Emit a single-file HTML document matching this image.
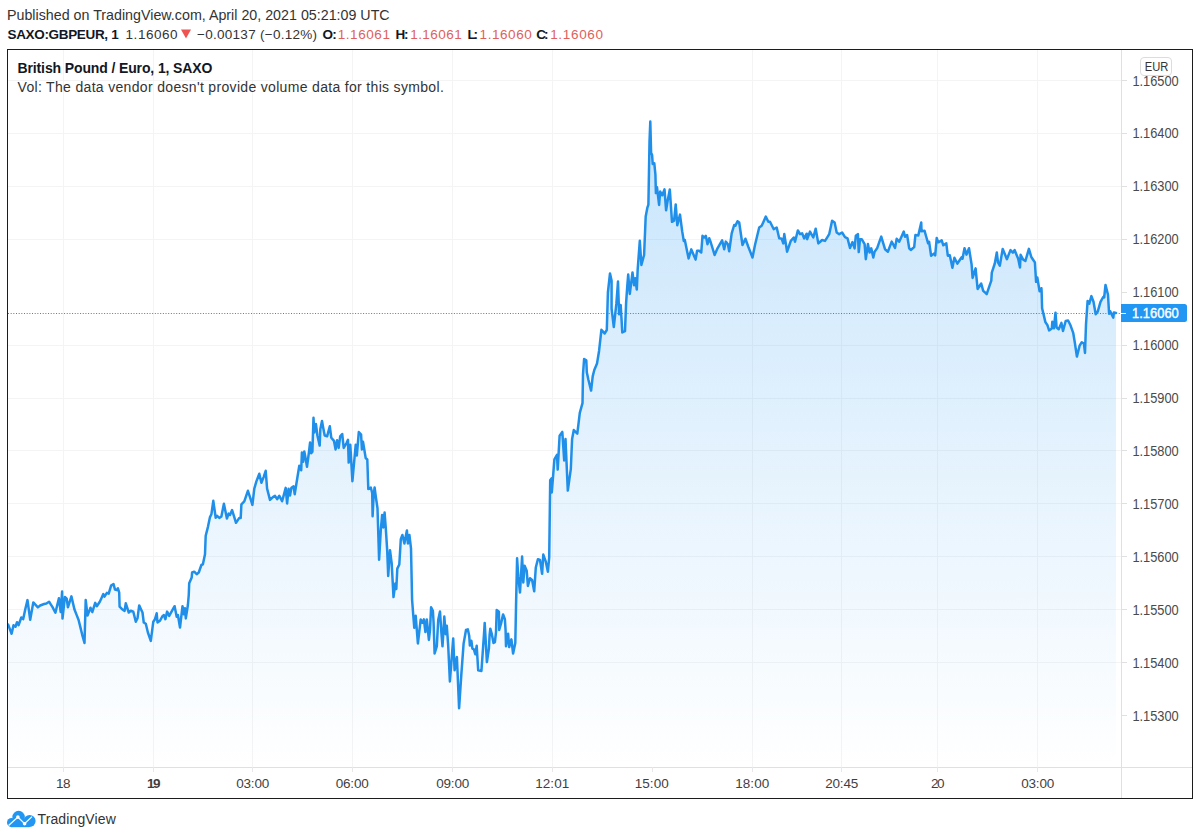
<!DOCTYPE html>
<html><head><meta charset="utf-8">
<style>
html,body{margin:0;padding:0;background:#fff;width:1200px;height:840px;overflow:hidden;}
svg{position:absolute;left:0;top:0;font-family:"Liberation Sans", sans-serif;}
</style></head><body>
<svg width="1200" height="840" viewBox="0 0 1200 840">
<defs>
<linearGradient id="ag" x1="0" y1="49" x2="0" y2="767" gradientUnits="userSpaceOnUse">
<stop offset="0" stop-color="#2196f3" stop-opacity="0.28"/>
<stop offset="1" stop-color="#2196f3" stop-opacity="0"/>
</linearGradient>
<clipPath id="pane"><rect x="8" y="50" width="1113" height="717"/></clipPath>
</defs>
<rect x="0" y="0" width="1200" height="840" fill="#fff"/>
<g stroke="#f4f4f4" stroke-width="1"><line x1="8" y1="80.5" x2="1121" y2="80.5"/><line x1="8" y1="133.5" x2="1121" y2="133.5"/><line x1="8" y1="186.5" x2="1121" y2="186.5"/><line x1="8" y1="239.5" x2="1121" y2="239.5"/><line x1="8" y1="345.5" x2="1121" y2="345.5"/><line x1="8" y1="398.5" x2="1121" y2="398.5"/><line x1="8" y1="450.5" x2="1121" y2="450.5"/><line x1="8" y1="503.5" x2="1121" y2="503.5"/><line x1="8" y1="556.5" x2="1121" y2="556.5"/><line x1="8" y1="609.5" x2="1121" y2="609.5"/><line x1="8" y1="662.5" x2="1121" y2="662.5"/><line x1="63.5" y1="50" x2="63.5" y2="767"/><line x1="153.5" y1="50" x2="153.5" y2="767"/><line x1="252.5" y1="50" x2="252.5" y2="767"/><line x1="352.5" y1="50" x2="352.5" y2="767"/><line x1="452.5" y1="50" x2="452.5" y2="767"/><line x1="552.5" y1="50" x2="552.5" y2="767"/><line x1="752.5" y1="50" x2="752.5" y2="767"/><line x1="841.5" y1="50" x2="841.5" y2="767"/><line x1="937.5" y1="50" x2="937.5" y2="767"/><line x1="1037.5" y1="50" x2="1037.5" y2="767"/></g>
<g clip-path="url(#pane)">
<path d="M8.1 624.5 L9.85 629.1 L11.6 633.7 L13.5 625.2 L15.5 626.8 L17 622.2 L18.6 625.2 L21.3 617.5 L23.2 619.1 L25.5 608.2 L27.5 600.1 L30.2 619.8 L33.3 602.4 L35.6 604.9 L37.9 607.4 L40.2 605.5 L42.15 604.75 L44.1 604 L46.4 603.6 L49.1 601.7 L50.75 604.3 L52.4 606.9 L55.4 612.7 L57.15 605.45 L58.9 598.2 L60.7 612.1 L62.1 591.6 L62.5 618.6 L64.9 597 L66.7 598.6 L67.9 607.3 L69.65 601.85 L71.4 596.4 L74.4 609.3 L76.5 614.65 L78.6 620 L80.35 627.15 L82.1 634.3 L84.5 643 L85.7 600 L87.5 615.6 L90.5 607.7 L92.3 612.1 L95.2 602.9 L96.8 606.2 L99.8 601.7 L101.55 597.9 L103.3 594.1 L104.5 596.7 L106.9 592.9 L108.7 593.7 L111.1 585.6 L113.5 584 L115 589.6 L116.7 590 L117.9 588.3 L119.2 592.5 L119.6 606.7 L122.1 609.2 L124.6 610.9 L125.8 603.3 L128.75 612.5 L130.8 610.8 L133.3 611.7 L135.8 621.7 L137.5 618.3 L139.2 605.4 L140.85 608.95 L142.5 612.5 L143.75 622.5 L145.8 623.75 L147.9 632.5 L150.8 640.9 L153.3 621.7 L155 619.2 L156.7 613.3 L157.5 622.5 L160 620.8 L162.1 616.7 L163.75 615 L165.4 619.2 L167.1 611.6 L169.2 615.9 L171 612.67 L172.8 609.43 L174.6 606.2 L176.7 616.7 L177.9 615 L180 627.5 L182.5 606.2 L183.75 614.2 L185 608.3 L185.8 618.4 L187.9 605 L188.75 595 L189.2 583.3 L191.7 577.5 L192.1 572.5 L194.2 571.7 L196.7 574.2 L198.75 572.5 L201.4 565 L202.9 564.3 L205 554.3 L205.7 535.7 L207.9 527.1 L210 517.1 L211.4 514.3 L213.3 500.8 L215.7 517.8 L217.1 515.8 L219.3 517.9 L221.4 516.4 L223.9 503.7 L226.9 518.5 L228.6 513.6 L230 515 L232.1 510.1 L234.05 516.45 L236 522.8 L237.65 520.35 L239.3 517.9 L240.7 517.9 L241.4 504.3 L244.3 501.4 L246.1 496.1 L247.9 490.8 L250 497.1 L252.4 504.9 L254.3 488.6 L256.4 481.4 L259.3 473.7 L261.4 482.8 L263.6 477.1 L265.7 470.8 L267.1 488.6 L270 499.9 L272.9 497.1 L275 495.8 L277.1 499.2 L279.3 495.8 L282.1 501.3 L283.9 494.6 L285.7 487.9 L287.1 503.5 L288.6 488.7 L290 495.6 L291.4 487.9 L293.6 486.4 L294.7 494.2 L297.1 479.3 L299.3 465.8 L301.2 470.3 L301.9 452.6 L303.1 461.8 L304.3 451.4 L305 454.9 L307 466.8 L308.9 452.5 L310.1 442.5 L311.2 453.3 L312.4 451.8 L313.5 417.8 L314.3 432.4 L315.9 423.9 L317.4 435.5 L319.7 445.6 L320.3 429.3 L322 420.9 L323.2 427.8 L324.7 435.5 L327.1 436.3 L329.8 426.3 L331.3 437.8 L334 440.9 L335.6 449.4 L337.1 440.2 L338.7 447.9 L340.2 436.3 L342.2 434 L343.7 447.9 L346.4 443.3 L348 439.8 L348.7 462.6 L350.3 444.8 L352.4 481.2 L354.05 463 L355.7 444.8 L356.8 455.6 L358.8 432.1 L361.1 434.7 L361.9 449.4 L363 441.7 L365.7 458 L367.3 459.5 L368.3 489 L370.8 487.5 L372.2 493 L372.6 516.2 L373.6 496 L374.6 487.5 L375.8 496.7 L377.5 508.3 L379.1 559.7 L380.8 530 L382.1 515 L383.3 527.5 L384.6 512.5 L385.8 528.3 L387.2 550.4 L388.2 575.9 L390 550.2 L391.7 563.5 L393.5 597.1 L395.3 583.6 L396.3 589 L397.3 568.6 L399.3 564.5 L400.8 539.2 L402.4 535 L404.4 543.5 L406.9 530.4 L407.9 543.5 L409.4 535 L411 548.3 L412.1 600 L413.2 614.3 L414.3 627.8 L415.7 615.8 L417.9 643.5 L420.7 619.4 L422.5 622.8 L423.9 619.4 L425.4 632.1 L426.8 619.4 L428.9 639.9 L430 630 L431.1 607.2 L432.9 610.7 L433.6 622.9 L434.6 653.5 L436.8 646.4 L438.2 620 L440 611.5 L441.4 632.9 L442.5 646.3 L444.3 616.5 L445.7 634.2 L446.8 625.8 L448.2 645.7 L449.9 681.5 L451.55 659.95 L453.2 638.4 L454.6 670.3 L456.9 657 L459.1 708.2 L461.3 674.8 L463.6 643.6 L466 630 L467.8 629.3 L469.2 635.7 L469.9 645.6 L471.4 640.8 L472.4 648.6 L473.9 649.3 L475.3 654.2 L476.7 645.8 L478.2 670.4 L481.4 671.1 L483.9 635.7 L484.7 622.9 L486.9 662.1 L488.9 648.6 L489.6 635 L490.3 628.7 L491.7 633.6 L493.5 642.9 L494.9 642.1 L496 632.1 L496.7 610.1 L498.9 611.8 L499.2 629.9 L501 623.6 L503.1 614.4 L504.9 619.3 L505.6 630.7 L506 646.3 L508.1 633.7 L509.2 647.1 L511.4 639.4 L513.1 653.5 L515.3 642.9 L516 607.1 L517.1 558.3 L518.3 576.7 L520 592.5 L522.1 556.6 L523.3 582.5 L524.6 565.8 L526.7 570.8 L527.9 585.9 L530 578.3 L532.1 580 L534.2 591.3 L535.8 567.5 L537.9 559.2 L540 560 L542.1 573.8 L543.3 554.55 L545.8 561.7 L547.9 571.7 L549.2 557.5 L550.2 480.2 L551.5 478.4 L551.8 492.5 L554.4 459.3 L557 454.8 L557.7 469.6 L559.6 435.7 L562.3 431.9 L564.2 460.5 L565.5 439.1 L567.8 490.6 L570.8 469.1 L572.1 439 L573.8 430 L575.55 431.8 L577.3 433.6 L579.8 412.9 L582.5 403.2 L583 374.3 L584.1 359 L586.3 360.4 L586.8 372.2 L588.4 379.7 L591.1 390.6 L592.7 376.4 L594.3 370 L597 363.6 L599.1 350.7 L601.4 329.8 L603 331.65 L604.6 333.5 L606.8 330 L607.9 292.5 L610 273.5 L611.6 280.7 L611.6 308.6 L613.8 327.1 L616.4 303.2 L618 281.5 L619.1 314.2 L620.7 305.1 L622.3 332.4 L625 331.1 L626.1 303.2 L627.2 287.2 L628.2 274.6 L629.8 293.9 L632.5 272.4 L634.1 285.3 L635.2 278.3 L636.8 289.6 L637.7 269 L639.8 240.8 L641.4 264.9 L644.1 255 L645.7 216.4 L647.3 207.9 L648.4 204.7 L649.5 142 L650.3 121.5 L651.1 152.9 L652.1 155 L652.7 163.9 L654.3 163.3 L655.4 174.3 L655.9 193.1 L657 187.2 L659.1 204.9 L660.2 191.5 L662.3 195.3 L664.5 189.4 L666.1 210.3 L667.7 200.4 L669.8 189.4 L672 221.8 L674.1 220.7 L675.7 204.4 L677.3 225.3 L680 214.6 L682.2 231.4 L683.8 241.1 L684.8 240 L686.7 249.25 L688.6 258.5 L691.3 249.4 L693.45 254.5 L695.6 259.6 L697.1 250.8 L699.2 250.8 L701.25 252.5 L702.5 235.8 L704.2 237.5 L705.8 235.8 L707.5 244.2 L709.2 238.3 L710.8 242.5 L712.7 248.75 L714.6 255 L717.5 248.3 L719.8 244.35 L722.1 240.4 L724.2 249.2 L725.8 241.6 L727.9 244.2 L729.2 251.3 L731.7 233.3 L734.2 225 L735.4 225.8 L737.5 221.25 L739.2 222.5 L740.85 233.75 L742.5 245 L745.4 238.7 L748.3 246.7 L750.4 252.1 L752.5 257.5 L755 245 L757.1 236.25 L759.2 227.5 L761.7 225.8 L763.75 221.2 L765.8 216.6 L768.3 221.7 L770 221.7 L771.88 225.45 L773.75 229.2 L776.7 227.5 L779.2 238.3 L781.7 238.75 L783.3 243.4 L784.3 234.1 L787.1 251.7 L788.95 246.25 L790.8 240.8 L793.75 237.5 L795 241.7 L797.9 230.4 L800 234.2 L802.1 233.3 L804.2 238.4 L806.7 233.7 L807.1 239.2 L810 231.6 L811.65 234.55 L813.3 237.5 L815.7 228.7 L818.3 243.4 L820.2 241.7 L822.1 240 L825 240.9 L827.1 237.55 L829.2 234.2 L832.1 220.8 L834.6 222.5 L836.7 232.5 L839.2 234.2 L842.1 232.5 L845 237.1 L847.5 238.3 L850 247.95 L852.5 242.05 L854.6 248.4 L855.8 235.8 L857.9 234.1 L858.75 252.1 L860 239.2 L861.7 239.2 L864.6 244.2 L865.8 259.2 L867.9 244.1 L869.6 252.5 L871.25 248.3 L873.3 257.5 L874.6 251.7 L877.1 248.3 L879.17 242.45 L881.25 236.6 L883.12 242.9 L885 249.2 L887.9 251.7 L889.8 246.65 L891.7 241.6 L893.35 244.78 L895 247.95 L896.7 238.7 L899.2 241.7 L901.48 236.65 L903.75 231.6 L905 236.7 L907.1 235 L909.2 248.3 L910.8 250 L912.5 248.55 L914.2 247.1 L915.4 235 L918.3 235.4 L921.25 222.5 L921.5 231.2 L924.5 230.7 L926.3 237 L928.1 243.3 L929.1 241.8 L931.1 255.7 L934.2 253.4 L935.2 255.4 L936.7 238 L938.2 242.3 L939.95 241.3 L941.7 240.3 L943.3 245.3 L946.3 243.3 L947.8 255.7 L949.8 255.2 L952.4 267.8 L954.4 257.8 L957.4 263.7 L959.45 260.5 L961.5 257.3 L962.5 258.7 L964.5 248.2 L966.5 254.6 L969 248.2 L971.6 264.5 L972.6 277.9 L975.6 268.4 L977.6 289 L979.4 286.25 L981.2 283.5 L983.2 290.8 L984.95 292.45 L986.7 294.1 L988.8 287.8 L991.3 280.7 L991.8 272.6 L994.8 263.5 L996.8 252.5 L998 262.4 L999.8 265.7 L1002.7 248.9 L1004.8 254.05 L1006.9 259.2 L1008.7 254.65 L1010.5 250.1 L1012.9 252.7 L1014.6 250.1 L1016.4 254.45 L1018.2 258.8 L1020 267.5 L1020.6 254.8 L1023 259.4 L1025.4 261 L1027.15 254.95 L1028.9 248.9 L1031.3 257 L1033.1 259.7 L1034.9 262.4 L1036.1 281.8 L1037.3 277.5 L1039.6 291.3 L1041.4 288.2 L1041.6 291.1 L1042.1 308.2 L1043.75 315.15 L1045.4 322.1 L1047.5 325.3 L1049.1 330.4 L1051.8 328.5 L1052.3 321.8 L1053.9 328.3 L1055.5 312.7 L1056.6 327.5 L1058.7 329.3 L1061.4 322.9 L1063 330.9 L1065.7 321 L1068.1 320.5 L1070.5 325.3 L1073.2 332.8 L1074.8 342.5 L1076.9 356.6 L1079.6 345.7 L1081.8 342.2 L1083.9 343.5 L1085 352.9 L1086 324.3 L1087.6 301 L1089.3 303.6 L1091.4 296.1 L1093.5 301.8 L1095.7 314.3 L1097.8 311.4 L1100.5 301.8 L1103.2 297 L1104.2 297.5 L1105.5 284.9 L1108 294.8 L1109.1 313.8 L1110.1 311.1 L1111.7 314.35 L1113.3 317.6 L1113.9 312.5 L1116 313 L1116 767 L8.1 767 Z" fill="url(#ag)" stroke="none"/>
<line x1="8" y1="313.5" x2="1121" y2="313.5" stroke="#2f86cc" stroke-width="1" stroke-dasharray="1 1.67"/>
<path d="M8.1 624.5 L9.85 629.1 L11.6 633.7 L13.5 625.2 L15.5 626.8 L17 622.2 L18.6 625.2 L21.3 617.5 L23.2 619.1 L25.5 608.2 L27.5 600.1 L30.2 619.8 L33.3 602.4 L35.6 604.9 L37.9 607.4 L40.2 605.5 L42.15 604.75 L44.1 604 L46.4 603.6 L49.1 601.7 L50.75 604.3 L52.4 606.9 L55.4 612.7 L57.15 605.45 L58.9 598.2 L60.7 612.1 L62.1 591.6 L62.5 618.6 L64.9 597 L66.7 598.6 L67.9 607.3 L69.65 601.85 L71.4 596.4 L74.4 609.3 L76.5 614.65 L78.6 620 L80.35 627.15 L82.1 634.3 L84.5 643 L85.7 600 L87.5 615.6 L90.5 607.7 L92.3 612.1 L95.2 602.9 L96.8 606.2 L99.8 601.7 L101.55 597.9 L103.3 594.1 L104.5 596.7 L106.9 592.9 L108.7 593.7 L111.1 585.6 L113.5 584 L115 589.6 L116.7 590 L117.9 588.3 L119.2 592.5 L119.6 606.7 L122.1 609.2 L124.6 610.9 L125.8 603.3 L128.75 612.5 L130.8 610.8 L133.3 611.7 L135.8 621.7 L137.5 618.3 L139.2 605.4 L140.85 608.95 L142.5 612.5 L143.75 622.5 L145.8 623.75 L147.9 632.5 L150.8 640.9 L153.3 621.7 L155 619.2 L156.7 613.3 L157.5 622.5 L160 620.8 L162.1 616.7 L163.75 615 L165.4 619.2 L167.1 611.6 L169.2 615.9 L171 612.67 L172.8 609.43 L174.6 606.2 L176.7 616.7 L177.9 615 L180 627.5 L182.5 606.2 L183.75 614.2 L185 608.3 L185.8 618.4 L187.9 605 L188.75 595 L189.2 583.3 L191.7 577.5 L192.1 572.5 L194.2 571.7 L196.7 574.2 L198.75 572.5 L201.4 565 L202.9 564.3 L205 554.3 L205.7 535.7 L207.9 527.1 L210 517.1 L211.4 514.3 L213.3 500.8 L215.7 517.8 L217.1 515.8 L219.3 517.9 L221.4 516.4 L223.9 503.7 L226.9 518.5 L228.6 513.6 L230 515 L232.1 510.1 L234.05 516.45 L236 522.8 L237.65 520.35 L239.3 517.9 L240.7 517.9 L241.4 504.3 L244.3 501.4 L246.1 496.1 L247.9 490.8 L250 497.1 L252.4 504.9 L254.3 488.6 L256.4 481.4 L259.3 473.7 L261.4 482.8 L263.6 477.1 L265.7 470.8 L267.1 488.6 L270 499.9 L272.9 497.1 L275 495.8 L277.1 499.2 L279.3 495.8 L282.1 501.3 L283.9 494.6 L285.7 487.9 L287.1 503.5 L288.6 488.7 L290 495.6 L291.4 487.9 L293.6 486.4 L294.7 494.2 L297.1 479.3 L299.3 465.8 L301.2 470.3 L301.9 452.6 L303.1 461.8 L304.3 451.4 L305 454.9 L307 466.8 L308.9 452.5 L310.1 442.5 L311.2 453.3 L312.4 451.8 L313.5 417.8 L314.3 432.4 L315.9 423.9 L317.4 435.5 L319.7 445.6 L320.3 429.3 L322 420.9 L323.2 427.8 L324.7 435.5 L327.1 436.3 L329.8 426.3 L331.3 437.8 L334 440.9 L335.6 449.4 L337.1 440.2 L338.7 447.9 L340.2 436.3 L342.2 434 L343.7 447.9 L346.4 443.3 L348 439.8 L348.7 462.6 L350.3 444.8 L352.4 481.2 L354.05 463 L355.7 444.8 L356.8 455.6 L358.8 432.1 L361.1 434.7 L361.9 449.4 L363 441.7 L365.7 458 L367.3 459.5 L368.3 489 L370.8 487.5 L372.2 493 L372.6 516.2 L373.6 496 L374.6 487.5 L375.8 496.7 L377.5 508.3 L379.1 559.7 L380.8 530 L382.1 515 L383.3 527.5 L384.6 512.5 L385.8 528.3 L387.2 550.4 L388.2 575.9 L390 550.2 L391.7 563.5 L393.5 597.1 L395.3 583.6 L396.3 589 L397.3 568.6 L399.3 564.5 L400.8 539.2 L402.4 535 L404.4 543.5 L406.9 530.4 L407.9 543.5 L409.4 535 L411 548.3 L412.1 600 L413.2 614.3 L414.3 627.8 L415.7 615.8 L417.9 643.5 L420.7 619.4 L422.5 622.8 L423.9 619.4 L425.4 632.1 L426.8 619.4 L428.9 639.9 L430 630 L431.1 607.2 L432.9 610.7 L433.6 622.9 L434.6 653.5 L436.8 646.4 L438.2 620 L440 611.5 L441.4 632.9 L442.5 646.3 L444.3 616.5 L445.7 634.2 L446.8 625.8 L448.2 645.7 L449.9 681.5 L451.55 659.95 L453.2 638.4 L454.6 670.3 L456.9 657 L459.1 708.2 L461.3 674.8 L463.6 643.6 L466 630 L467.8 629.3 L469.2 635.7 L469.9 645.6 L471.4 640.8 L472.4 648.6 L473.9 649.3 L475.3 654.2 L476.7 645.8 L478.2 670.4 L481.4 671.1 L483.9 635.7 L484.7 622.9 L486.9 662.1 L488.9 648.6 L489.6 635 L490.3 628.7 L491.7 633.6 L493.5 642.9 L494.9 642.1 L496 632.1 L496.7 610.1 L498.9 611.8 L499.2 629.9 L501 623.6 L503.1 614.4 L504.9 619.3 L505.6 630.7 L506 646.3 L508.1 633.7 L509.2 647.1 L511.4 639.4 L513.1 653.5 L515.3 642.9 L516 607.1 L517.1 558.3 L518.3 576.7 L520 592.5 L522.1 556.6 L523.3 582.5 L524.6 565.8 L526.7 570.8 L527.9 585.9 L530 578.3 L532.1 580 L534.2 591.3 L535.8 567.5 L537.9 559.2 L540 560 L542.1 573.8 L543.3 554.55 L545.8 561.7 L547.9 571.7 L549.2 557.5 L550.2 480.2 L551.5 478.4 L551.8 492.5 L554.4 459.3 L557 454.8 L557.7 469.6 L559.6 435.7 L562.3 431.9 L564.2 460.5 L565.5 439.1 L567.8 490.6 L570.8 469.1 L572.1 439 L573.8 430 L575.55 431.8 L577.3 433.6 L579.8 412.9 L582.5 403.2 L583 374.3 L584.1 359 L586.3 360.4 L586.8 372.2 L588.4 379.7 L591.1 390.6 L592.7 376.4 L594.3 370 L597 363.6 L599.1 350.7 L601.4 329.8 L603 331.65 L604.6 333.5 L606.8 330 L607.9 292.5 L610 273.5 L611.6 280.7 L611.6 308.6 L613.8 327.1 L616.4 303.2 L618 281.5 L619.1 314.2 L620.7 305.1 L622.3 332.4 L625 331.1 L626.1 303.2 L627.2 287.2 L628.2 274.6 L629.8 293.9 L632.5 272.4 L634.1 285.3 L635.2 278.3 L636.8 289.6 L637.7 269 L639.8 240.8 L641.4 264.9 L644.1 255 L645.7 216.4 L647.3 207.9 L648.4 204.7 L649.5 142 L650.3 121.5 L651.1 152.9 L652.1 155 L652.7 163.9 L654.3 163.3 L655.4 174.3 L655.9 193.1 L657 187.2 L659.1 204.9 L660.2 191.5 L662.3 195.3 L664.5 189.4 L666.1 210.3 L667.7 200.4 L669.8 189.4 L672 221.8 L674.1 220.7 L675.7 204.4 L677.3 225.3 L680 214.6 L682.2 231.4 L683.8 241.1 L684.8 240 L686.7 249.25 L688.6 258.5 L691.3 249.4 L693.45 254.5 L695.6 259.6 L697.1 250.8 L699.2 250.8 L701.25 252.5 L702.5 235.8 L704.2 237.5 L705.8 235.8 L707.5 244.2 L709.2 238.3 L710.8 242.5 L712.7 248.75 L714.6 255 L717.5 248.3 L719.8 244.35 L722.1 240.4 L724.2 249.2 L725.8 241.6 L727.9 244.2 L729.2 251.3 L731.7 233.3 L734.2 225 L735.4 225.8 L737.5 221.25 L739.2 222.5 L740.85 233.75 L742.5 245 L745.4 238.7 L748.3 246.7 L750.4 252.1 L752.5 257.5 L755 245 L757.1 236.25 L759.2 227.5 L761.7 225.8 L763.75 221.2 L765.8 216.6 L768.3 221.7 L770 221.7 L771.88 225.45 L773.75 229.2 L776.7 227.5 L779.2 238.3 L781.7 238.75 L783.3 243.4 L784.3 234.1 L787.1 251.7 L788.95 246.25 L790.8 240.8 L793.75 237.5 L795 241.7 L797.9 230.4 L800 234.2 L802.1 233.3 L804.2 238.4 L806.7 233.7 L807.1 239.2 L810 231.6 L811.65 234.55 L813.3 237.5 L815.7 228.7 L818.3 243.4 L820.2 241.7 L822.1 240 L825 240.9 L827.1 237.55 L829.2 234.2 L832.1 220.8 L834.6 222.5 L836.7 232.5 L839.2 234.2 L842.1 232.5 L845 237.1 L847.5 238.3 L850 247.95 L852.5 242.05 L854.6 248.4 L855.8 235.8 L857.9 234.1 L858.75 252.1 L860 239.2 L861.7 239.2 L864.6 244.2 L865.8 259.2 L867.9 244.1 L869.6 252.5 L871.25 248.3 L873.3 257.5 L874.6 251.7 L877.1 248.3 L879.17 242.45 L881.25 236.6 L883.12 242.9 L885 249.2 L887.9 251.7 L889.8 246.65 L891.7 241.6 L893.35 244.78 L895 247.95 L896.7 238.7 L899.2 241.7 L901.48 236.65 L903.75 231.6 L905 236.7 L907.1 235 L909.2 248.3 L910.8 250 L912.5 248.55 L914.2 247.1 L915.4 235 L918.3 235.4 L921.25 222.5 L921.5 231.2 L924.5 230.7 L926.3 237 L928.1 243.3 L929.1 241.8 L931.1 255.7 L934.2 253.4 L935.2 255.4 L936.7 238 L938.2 242.3 L939.95 241.3 L941.7 240.3 L943.3 245.3 L946.3 243.3 L947.8 255.7 L949.8 255.2 L952.4 267.8 L954.4 257.8 L957.4 263.7 L959.45 260.5 L961.5 257.3 L962.5 258.7 L964.5 248.2 L966.5 254.6 L969 248.2 L971.6 264.5 L972.6 277.9 L975.6 268.4 L977.6 289 L979.4 286.25 L981.2 283.5 L983.2 290.8 L984.95 292.45 L986.7 294.1 L988.8 287.8 L991.3 280.7 L991.8 272.6 L994.8 263.5 L996.8 252.5 L998 262.4 L999.8 265.7 L1002.7 248.9 L1004.8 254.05 L1006.9 259.2 L1008.7 254.65 L1010.5 250.1 L1012.9 252.7 L1014.6 250.1 L1016.4 254.45 L1018.2 258.8 L1020 267.5 L1020.6 254.8 L1023 259.4 L1025.4 261 L1027.15 254.95 L1028.9 248.9 L1031.3 257 L1033.1 259.7 L1034.9 262.4 L1036.1 281.8 L1037.3 277.5 L1039.6 291.3 L1041.4 288.2 L1041.6 291.1 L1042.1 308.2 L1043.75 315.15 L1045.4 322.1 L1047.5 325.3 L1049.1 330.4 L1051.8 328.5 L1052.3 321.8 L1053.9 328.3 L1055.5 312.7 L1056.6 327.5 L1058.7 329.3 L1061.4 322.9 L1063 330.9 L1065.7 321 L1068.1 320.5 L1070.5 325.3 L1073.2 332.8 L1074.8 342.5 L1076.9 356.6 L1079.6 345.7 L1081.8 342.2 L1083.9 343.5 L1085 352.9 L1086 324.3 L1087.6 301 L1089.3 303.6 L1091.4 296.1 L1093.5 301.8 L1095.7 314.3 L1097.8 311.4 L1100.5 301.8 L1103.2 297 L1104.2 297.5 L1105.5 284.9 L1108 294.8 L1109.1 313.8 L1110.1 311.1 L1111.7 314.35 L1113.3 317.6 L1113.9 312.5 L1116 313" fill="none" stroke="#208fe9" stroke-width="2.5" stroke-linejoin="round" stroke-linecap="round"/>
</g>
<g stroke="#e0e0e0" stroke-width="1">
<line x1="1121.5" y1="50" x2="1121.5" y2="798"/>
<line x1="8" y1="767.5" x2="1192" y2="767.5"/>
</g>
<g stroke="#e0e0e0" stroke-width="1"><line x1="1121" y1="80.5" x2="1127" y2="80.5"/><line x1="1121" y1="133.5" x2="1127" y2="133.5"/><line x1="1121" y1="186.5" x2="1127" y2="186.5"/><line x1="1121" y1="239.5" x2="1127" y2="239.5"/><line x1="1121" y1="292.5" x2="1127" y2="292.5"/><line x1="1121" y1="345.5" x2="1127" y2="345.5"/><line x1="1121" y1="398.5" x2="1127" y2="398.5"/><line x1="1121" y1="450.5" x2="1127" y2="450.5"/><line x1="1121" y1="503.5" x2="1127" y2="503.5"/><line x1="1121" y1="556.5" x2="1127" y2="556.5"/><line x1="1121" y1="609.5" x2="1127" y2="609.5"/><line x1="1121" y1="662.5" x2="1127" y2="662.5"/><line x1="1121" y1="715.5" x2="1127" y2="715.5"/></g><g stroke="#e8e8e8" stroke-width="1"><line x1="63.5" y1="767" x2="63.5" y2="772"/><line x1="153.5" y1="767" x2="153.5" y2="772"/><line x1="252.5" y1="767" x2="252.5" y2="772"/><line x1="352.5" y1="767" x2="352.5" y2="772"/><line x1="452.5" y1="767" x2="452.5" y2="772"/><line x1="552.5" y1="767" x2="552.5" y2="772"/><line x1="652.5" y1="767" x2="652.5" y2="772"/><line x1="752.5" y1="767" x2="752.5" y2="772"/><line x1="841.5" y1="767" x2="841.5" y2="772"/><line x1="937.5" y1="767" x2="937.5" y2="772"/><line x1="1037.5" y1="767" x2="1037.5" y2="772"/></g>
<rect x="7.5" y="49.5" width="1185" height="749" fill="none" stroke="#1c1c1c" stroke-width="1"/>
<path d="M1121 304 H1184.5 A2.5 2.5 0 0 1 1187 306.5 V319.5 A2.5 2.5 0 0 1 1184.5 322 H1121 Z" fill="#2196f3"/>
<line x1="1121" y1="313.5" x2="1126" y2="313.5" stroke="#fff" stroke-width="1"/>
<polygon points="181,29.5 191,29.5 186,38.5" fill="#ef5350"/>
<g transform="translate(0,805)">
<g fill="#2196f3"><circle cx="11.6" cy="17.6" r="4.6"/><circle cx="18.6" cy="12.1" r="6.3"/><circle cx="29.6" cy="16.1" r="6"/><rect x="11.6" y="14" width="18" height="8.2"/></g>
<polyline points="8.6,20.4 17.9,12.1 24.6,18.7 32,11.6" fill="none" stroke="#fff" stroke-width="1.3"/>
<circle cx="17.9" cy="12.1" r="1.8" fill="#fff"/><circle cx="24.6" cy="18.7" r="1.8" fill="#fff"/>
</g>
<text transform="translate(6.98,20) scale(1.0198,1)" font-size="14" font-weight="normal" fill="#333333">Published on TradingView.com, April 20, 2021 05:21:09 UTC</text>
<text x="7.5" y="39" font-size="13.5" font-weight="bold" fill="#131722" textLength="111.21" lengthAdjust="spacing">SAXO:GBPEUR, 1</text>
<text x="125.6" y="39" font-size="13.5" font-weight="normal" fill="#333333" textLength="51.91" lengthAdjust="spacing">1.16060</text>
<text x="197" y="39" font-size="13.5" font-weight="normal" fill="#333333" textLength="120.1" lengthAdjust="spacing">−0.00137 (−0.12%)</text>
<text x="322.5" y="39" font-size="13.5" font-weight="bold" fill="#131722" textLength="14.2" lengthAdjust="spacing">O:</text>
<text x="337.7" y="39" font-size="13.5" font-weight="normal" fill="#df5f5c" textLength="52.21" lengthAdjust="spacing">1.16061</text>
<text x="395.6" y="39" font-size="13.5" font-weight="bold" fill="#131722" textLength="13" lengthAdjust="spacing">H:</text>
<text x="410.2" y="39" font-size="13.5" font-weight="normal" fill="#df5f5c" textLength="51.51" lengthAdjust="spacing">1.16061</text>
<text x="467.5" y="39" font-size="13.5" font-weight="bold" fill="#131722" textLength="10.5" lengthAdjust="spacing">L:</text>
<text x="479.6" y="39" font-size="13.5" font-weight="normal" fill="#df5f5c" textLength="52.11" lengthAdjust="spacing">1.16060</text>
<text x="536.2" y="39" font-size="13.5" font-weight="bold" fill="#131722" textLength="12.4" lengthAdjust="spacing">C:</text>
<text x="550.2" y="39" font-size="13.5" font-weight="normal" fill="#df5f5c" textLength="52.81" lengthAdjust="spacing">1.16060</text>
<text x="17.5" y="73" font-size="14" font-weight="bold" fill="#131722" textLength="194.89" lengthAdjust="spacing">British Pound / Euro, 1, SAXO</text>
<text x="17.5" y="91.5" font-size="14" font-weight="normal" fill="#333333" textLength="426.29" lengthAdjust="spacing">Vol: The data vendor doesn't provide volume data for this symbol.</text>
<text x="37.5" y="824" font-size="14" font-weight="normal" fill="#333333" textLength="78.31" lengthAdjust="spacing">TradingView</text>
<text transform="translate(1132.38,85.5) scale(0.9173,1)" font-size="14" font-weight="normal" fill="#4a4a4a">1.16500</text>
<text transform="translate(1132.38,138.42) scale(0.9173,1)" font-size="14" font-weight="normal" fill="#4a4a4a">1.16400</text>
<text transform="translate(1132.38,191.33) scale(0.9173,1)" font-size="14" font-weight="normal" fill="#4a4a4a">1.16300</text>
<text transform="translate(1132.38,244.25) scale(0.9173,1)" font-size="14" font-weight="normal" fill="#4a4a4a">1.16200</text>
<text transform="translate(1132.38,297.17) scale(0.9173,1)" font-size="14" font-weight="normal" fill="#4a4a4a">1.16100</text>
<text transform="translate(1132.38,350.09) scale(0.9173,1)" font-size="14" font-weight="normal" fill="#4a4a4a">1.16000</text>
<text transform="translate(1132.38,403) scale(0.9173,1)" font-size="14" font-weight="normal" fill="#4a4a4a">1.15900</text>
<text transform="translate(1132.38,455.92) scale(0.9173,1)" font-size="14" font-weight="normal" fill="#4a4a4a">1.15800</text>
<text transform="translate(1132.38,508.84) scale(0.9173,1)" font-size="14" font-weight="normal" fill="#4a4a4a">1.15700</text>
<text transform="translate(1132.38,561.75) scale(0.9173,1)" font-size="14" font-weight="normal" fill="#4a4a4a">1.15600</text>
<text transform="translate(1132.38,614.67) scale(0.9173,1)" font-size="14" font-weight="normal" fill="#4a4a4a">1.15500</text>
<text transform="translate(1132.38,667.59) scale(0.9173,1)" font-size="14" font-weight="normal" fill="#4a4a4a">1.15400</text>
<text transform="translate(1132.38,720.5) scale(0.9173,1)" font-size="14" font-weight="normal" fill="#4a4a4a">1.15300</text>
<text transform="translate(1132.08,318.2) scale(0.9233,1)" font-size="14" font-weight="normal" fill="#ffffff" stroke="#ffffff" stroke-width="0.4">1.16060</text>
<text x="56" y="787.6" font-size="13.5" font-weight="normal" fill="#3f3f3f" textLength="14.51" lengthAdjust="spacing">18</text>
<text x="147" y="787.6" font-size="13.5" font-weight="bold" fill="#3f3f3f" textLength="13.51" lengthAdjust="spacing">19</text>
<text x="236.25" y="787.6" font-size="13.5" font-weight="normal" fill="#3f3f3f" textLength="33.01" lengthAdjust="spacing">03:00</text>
<text x="335.75" y="787.6" font-size="13.5" font-weight="normal" fill="#3f3f3f" textLength="33.01" lengthAdjust="spacing">06:00</text>
<text x="436.25" y="787.6" font-size="13.5" font-weight="normal" fill="#3f3f3f" textLength="33.01" lengthAdjust="spacing">09:00</text>
<text x="535.25" y="787.6" font-size="13.5" font-weight="normal" fill="#3f3f3f" textLength="34.01" lengthAdjust="spacing">12:01</text>
<text x="634.75" y="787.6" font-size="13.5" font-weight="normal" fill="#3f3f3f" textLength="34.01" lengthAdjust="spacing">15:00</text>
<text x="735.25" y="787.6" font-size="13.5" font-weight="normal" fill="#3f3f3f" textLength="34.01" lengthAdjust="spacing">18:00</text>
<text x="825.25" y="787.6" font-size="13.5" font-weight="normal" fill="#3f3f3f" textLength="33.01" lengthAdjust="spacing">20:45</text>
<text x="931" y="787.6" font-size="13.5" font-weight="normal" fill="#3f3f3f" textLength="13.51" lengthAdjust="spacing">20</text>
<text x="1021.25" y="787.6" font-size="13.5" font-weight="normal" fill="#3f3f3f" textLength="33.01" lengthAdjust="spacing">03:00</text>

<rect x="1140.5" y="57.5" width="31" height="18" rx="3.5" fill="#fff" stroke="#dcdcdc" stroke-width="1"/>
<text transform="translate(1144.74,71) scale(0.8596,1)" font-size="13" font-weight="normal" fill="#333333">EUR</text>
</svg>
</body></html>
